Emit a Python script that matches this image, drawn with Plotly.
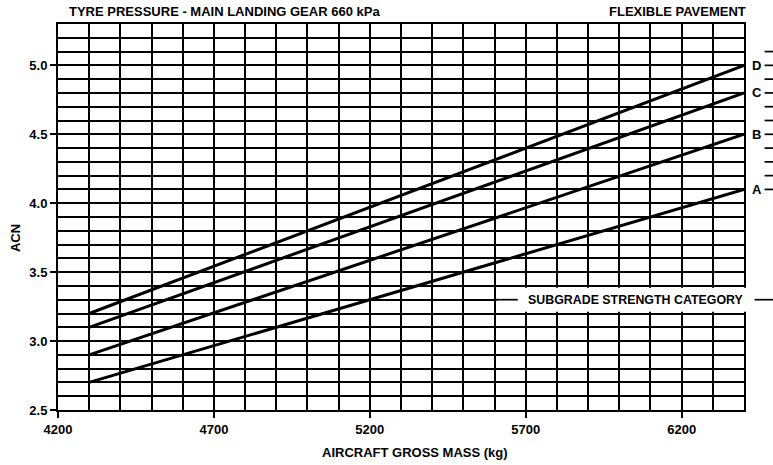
import plotly.graph_objects as go

# Gross mass range covered by each subgrade curve (kg)
mass = [4300, 6400]

# ACN at the lightest and heaviest mass for each subgrade strength category
categories = ["A", "B", "C", "D"]
acn_values = {
    "A": [2.7, 4.1],
    "B": [2.9, 4.5],
    "C": [3.1, 4.8],
    "D": [3.2, 5.0],
}

x_ticks = [4200, 4700, 5200, 5700, 6200]
y_ticks = [2.5, 3.0, 3.5, 4.0, 4.5, 5.0]
x_range = [4200, 6400]
y_range = [2.5, 5.3]

# ACN grid lines that continue into the right-hand label margin
margin_grid = [4.1, 4.2, 4.3, 4.4, 4.5, 4.6, 4.7, 4.8, 4.9, 5.0, 5.1]

FONT = "Liberation Sans, Arial, sans-serif"
W, H = 773, 465
L, R, T, B = 58, 28.6, 24, 55
plot_w = W - L - R
plot_h = H - T - B


def px_x(px):
    """Horizontal page pixel -> paper coordinate."""
    return (px - L) / plot_w


def px_y(py):
    """Vertical page pixel (from top) -> paper coordinate."""
    return (H - B - py) / plot_h


def mass_x(m):
    return (m - x_range[0]) / (x_range[1] - x_range[0])


def bold(size):
    return dict(family=FONT, size=size, color="black", weight="bold")


fig = go.Figure()

for cat in categories:
    fig.add_trace(go.Scatter(
        x=mass, y=acn_values[cat], mode="lines",
        line=dict(color="black", width=3),
        name=cat, showlegend=False, hoverinfo="skip",
    ))

GRID_W = 1.7
shapes = []
# short grid dashes to the right of the curve labels
for v in margin_grid:
    shapes.append(dict(type="line", xref="paper", yref="y",
                       x0=px_x(765), x1=px_x(774),
                       y0=v, y1=v, line=dict(color="black", width=GRID_W)))

# white band behind the subgrade strength caption
shapes.append(dict(type="rect", xref="paper", yref="y",
                   x0=mass_x(5600) + 0.003, x1=px_x(775),
                   y0=3.213, y1=3.387, fillcolor="white",
                   line=dict(width=0), layer="above"))
# caption leader line pieces
shapes.append(dict(type="line", xref="paper", yref="y",
                   x0=mass_x(5600), x1=px_x(518),
                   y0=3.3, y1=3.3, line=dict(color="black", width=GRID_W), layer="above"))
shapes.append(dict(type="line", xref="paper", yref="y",
                   x0=px_x(755), x1=px_x(774),
                   y0=3.3, y1=3.3, line=dict(color="black", width=GRID_W), layer="above"))

annotations = []
for cat in categories:
    annotations.append(dict(
        x=px_x(757), xref="paper", y=acn_values[cat][-1], yref="y",
        text=cat, showarrow=False, xanchor="center", yanchor="middle",
        font=bold(13),
    ))

annotations += [
    dict(x=px_x(636), xref="paper", y=3.3, yref="y",
         text="SUBGRADE STRENGTH CATEGORY", showarrow=False,
         xanchor="center", yanchor="middle", font=bold(12.4)),
    dict(x=px_x(225), xref="paper", y=px_y(12), yref="paper",
         text="TYRE PRESSURE - MAIN LANDING GEAR 660 kPa",
         showarrow=False, xanchor="center", yanchor="middle", font=bold(13)),
    dict(x=px_x(748), xref="paper", y=px_y(12), yref="paper",
         text="FLEXIBLE PAVEMENT",
         showarrow=False, xanchor="right", yanchor="middle", font=bold(13)),
    dict(x=px_x(415), xref="paper", y=px_y(452), yref="paper",
         text="AIRCRAFT GROSS MASS (kg)",
         showarrow=False, xanchor="center", yanchor="middle", font=bold(13)),
    dict(x=px_x(15), xref="paper", y=px_y(238), yref="paper",
         text="ACN", showarrow=False, xanchor="center", yanchor="middle",
         textangle=-90, font=bold(13)),
]

fig.update_layout(
    width=W, height=H,
    margin=dict(l=L, r=R, t=T, b=B, pad=0),
    paper_bgcolor="white", plot_bgcolor="white",
    shapes=shapes, annotations=annotations,
    xaxis=dict(
        range=x_range, tickvals=x_ticks, ticktext=[str(v) for v in x_ticks],
        ticks="outside", ticklen=6, tickwidth=GRID_W, tickcolor="black",
        showline=True, linecolor="black", linewidth=2, mirror=True,
        showgrid=True, gridcolor="black", gridwidth=GRID_W, zeroline=False,
        minor=dict(dtick=100, tick0=4200, showgrid=True, gridcolor="black",
                   gridwidth=GRID_W, ticks=""),
        tickfont=bold(13), fixedrange=True,
    ),
    yaxis=dict(
        range=y_range, tickvals=y_ticks, ticktext=[f"{v:.1f}" for v in y_ticks],
        ticks="outside", ticklen=6, tickwidth=GRID_W, tickcolor="black",
        showline=True, linecolor="black", linewidth=2, mirror=True,
        showgrid=True, gridcolor="black", gridwidth=GRID_W, zeroline=False,
        minor=dict(dtick=0.1, tick0=2.5, showgrid=True, gridcolor="black",
                   gridwidth=GRID_W, ticks=""),
        tickfont=bold(13), fixedrange=True,
    ),
)

fig.write_html("out.html")
